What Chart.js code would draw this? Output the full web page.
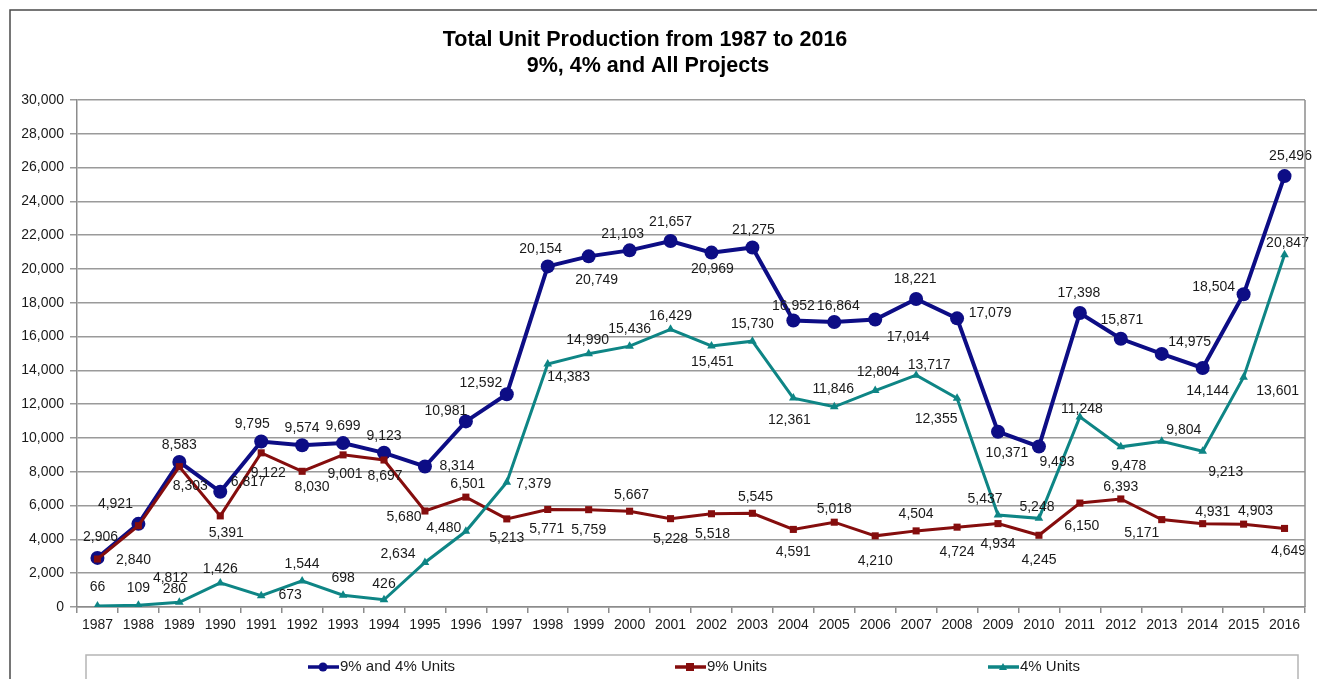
<!DOCTYPE html>
<html>
<head>
<meta charset="utf-8">
<script src="https://cdn.jsdelivr.net/npm/chart.js@4"></script>
<style>
  html, body { margin: 0; padding: 0; background: #fff; }
  #wrap { width: 1317px; height: 679px; }
</style>
</head>
<body>
<div id="wrap"><canvas id="myChart" width="1317" height="679"></canvas></div>
<script>
// Chart data
const years = ["1987", "1988", "1989", "1990", "1991", "1992", "1993", "1994", "1995", "1996",
  "1997", "1998", "1999", "2000", "2001", "2002", "2003", "2004", "2005", "2006",
  "2007", "2008", "2009", "2010", "2011", "2012", "2013", "2014", "2015", "2016"];

const allUnits = [2906, 4921, 8583, 6817, 9795, 9574, 9699, 9123, 8314, 10981,
  12592, 20154, 20749, 21103, 21657, 20969, 21275, 16952, 16864, 17014,
  18221, 17079, 10371, 9493, 17398, 15871, 14975, 14144, 18504, 25496];

const nineUnits = [2840, 4812, 8303, 5391, 9122, 8030, 9001, 8697, 5680, 6501,
  5213, 5771, 5759, 5667, 5228, 5518, 5545, 4591, 5018, 4210,
  4504, 4724, 4934, 4245, 6150, 6393, 5171, 4931, 4903, 4649];

const fourUnits = [66, 109, 280, 1426, 673, 1544, 698, 426, 2634, 4480,
  7379, 14383, 14990, 15436, 16429, 15451, 15730, 12361, 11846, 12804,
  13717, 12355, 5437, 5248, 11248, 9478, 9804, 9213, 13601, 20847];

const seriesNames = ["9% and 4% Units", "9% Units", "4% Units"];
const yTicks = [0, 2000, 4000, 6000, 8000, 10000, 12000, 14000, 16000, 18000,
  20000, 22000, 24000, 26000, 28000, 30000];

// label offsets (text centre relative to point), as placed in the original
const allOffsets = [[3,-21],[-23,-20],[0,-17],[28,-10],[-9,-17],[0,-17],[0,-17],[0,-17],[32,0],[-20,-10],
  [-26,-11],[-7,-17],[8,24],[-7,-16],[0,-19],[1,17],[1,-17],[0,-14],[4,-16],[33,18],
  [-1,-20],[33,-5],[9,21],[18,16],[-1,-20],[1,-19],[28,-12],[5,23],[-30,-7],[6,-20]];
const nineOffsets = [[36,1],[32,52],[11,19],[6,17],[7,20],[10,16],[2,19],[1,16],[-21,6],[2,-13],
  [0,19],[-1,20],[0,20],[2,-16],[0,20],[1,20],[3,-16],[0,23],[0,-13],[0,25],
  [0,-17],[0,25],[0,21],[0,25],[2,23],[0,-12],[-20,14],[10,-12],[12,-13],[4,23]];
const fourOffsets = [[0,-19],[0,-17],[-5,-13],[0,-14],[29,0],[0,-17],[0,-17],[0,-16],[-27,-8],[-22,-3],
  [27,2],[21,13],[-1,-14],[0,-17],[0,-13],[1,16],[0,-17],[-4,22],[-1,-18],[3,-18],
  [13,-10],[-21,21],[-13,-16],[-2,-11],[2,-8],[8,19],[22,-11],[23,21],[34,14],[3,-12]];

const blue = "#0d0d85";
const red = "#850d0d";
const teal = "#0e8585";
const font = "'Liberation Sans', Arial, sans-serif";

function fmt(v) {
  return v.toLocaleString("en-US");
}

// draws the value next to each point
const dataLabels = {
  id: "dataLabels",
  afterDatasetsDraw(chart) {
    const ctx = chart.ctx;
    ctx.save();
    ctx.font = "14px " + font;
    ctx.fillStyle = "#1a1a1a";
    ctx.textAlign = "center";
    ctx.textBaseline = "middle";
    chart.data.datasets.forEach((ds, i) => {
      const meta = chart.getDatasetMeta(i);
      meta.data.forEach((pt, j) => {
        const off = ds.labelOffsets[j];
        ctx.fillText(fmt(ds.data[j]), pt.x + off[0], pt.y + off[1]);
      });
    });
    ctx.restore();
  }
};

// title, frame and legend box
const decorations = {
  id: "decorations",
  afterDraw(chart) {
    const ctx = chart.ctx;
    const area = chart.chartArea;
    ctx.save();

    // outer frame
    ctx.strokeStyle = "#4a4a4a";
    ctx.lineWidth = 1.5;
    ctx.beginPath();
    ctx.moveTo(10, 679);
    ctx.lineTo(10, 10);
    ctx.lineTo(1317, 10);
    ctx.stroke();

    // plot area right border
    ctx.strokeStyle = "#8c8c8c";
    ctx.lineWidth = 1.5;
    ctx.beginPath();
    ctx.moveTo(area.right, area.top);
    ctx.lineTo(area.right, area.bottom);
    ctx.stroke();

    // title
    ctx.fillStyle = "#000";
    ctx.textAlign = "center";
    ctx.textBaseline = "middle";
    ctx.font = "bold 21.5px " + font;
    ctx.fillText("Total Unit Production from 1987 to 2016", 645, 40);
    ctx.fillText("9%, 4% and All Projects", 648, 66);

    // legend box
    ctx.strokeStyle = "#b5b5b5";
    ctx.lineWidth = 1.5;
    ctx.strokeRect(86, 655, 1212, 40);

    const legendX = [308, 675, 988];
    ctx.textAlign = "left";
    ctx.font = "15px " + font;
    chart.data.datasets.forEach((ds, i) => {
      const x = legendX[i];
      const y = 667;
      ctx.strokeStyle = ds.borderColor;
      ctx.fillStyle = ds.borderColor;
      ctx.lineWidth = 3.5;
      ctx.beginPath();
      ctx.moveTo(x, y);
      ctx.lineTo(x + 31, y);
      ctx.stroke();
      if (ds.pointStyle === "circle") {
        ctx.beginPath();
        ctx.arc(x + 15, y, 4.5, 0, Math.PI * 2);
        ctx.fill();
      } else if (ds.pointStyle === "rect") {
        ctx.fillRect(x + 11, y - 4, 8, 8);
      } else {
        ctx.beginPath();
        ctx.moveTo(x + 15, y - 4);
        ctx.lineTo(x + 19, y + 3);
        ctx.lineTo(x + 11, y + 3);
        ctx.closePath();
        ctx.fill();
      }
      ctx.fillStyle = "#1a1a1a";
      ctx.fillText(ds.label, x + 32, y);
    });

    ctx.restore();
  }
};

new Chart("myChart", {
  type: "line",
  data: {
    labels: years,
    datasets: [
      {
        label: seriesNames[0],
        data: allUnits,
        labelOffsets: allOffsets,
        borderColor: blue,
        backgroundColor: blue,
        borderWidth: 4,
        pointStyle: "circle",
        pointRadius: 7,
        pointBorderWidth: 0,
        order: 2,
      },
      {
        label: seriesNames[1],
        data: nineUnits,
        labelOffsets: nineOffsets,
        borderColor: red,
        backgroundColor: red,
        borderWidth: 3,
        pointStyle: "rect",
        pointRadius: 5,
        pointBorderWidth: 0,
        order: 1,
      },
      {
        label: seriesNames[2],
        data: fourUnits,
        labelOffsets: fourOffsets,
        borderColor: teal,
        backgroundColor: teal,
        borderWidth: 3,
        pointStyle: "triangle",
        pointRadius: 5,
        pointBorderWidth: 0,
        order: 0,
      },
    ],
  },
  options: {
    responsive: false,
    animation: false,
    layout: {
      padding: { top: 100, right: 12, bottom: 0, left: 0 },
    },
    plugins: {
      legend: { display: false },
      title: { display: false },
      tooltip: { enabled: false },
    },
    scales: {
      x: {
        offset: true,
        afterFit: (scale) => { scale.height = 72; },
        grid: {
          offset: true,
          drawOnChartArea: false,
          tickLength: 6,
          color: "#8c8c8c",
          lineWidth: 1.5,
        },
        border: { color: "#8c8c8c", width: 1.5 },
        ticks: {
          color: "#1a1a1a",
          padding: 4,
          maxRotation: 0,
          autoSkip: false,
          font: { family: font, size: 14 },
        },
      },
      y: {
        min: 0,
        max: 30000,
        afterFit: (scale) => { scale.width = 77; },
        afterBuildTicks: (scale) => {
          scale.ticks = yTicks.map((v) => ({ value: v }));
        },
        grid: {
          color: "#9a9a9a",
          lineWidth: 1.5,
          tickLength: 7,
        },
        border: { color: "#8c8c8c", width: 1.5 },
        ticks: {
          color: "#1a1a1a",
          padding: 6,
          font: { family: font, size: 14 },
          callback: (v) => fmt(v),
        },
      },
    },
  },
  plugins: [dataLabels, decorations],
});
</script>
</body>
</html>
